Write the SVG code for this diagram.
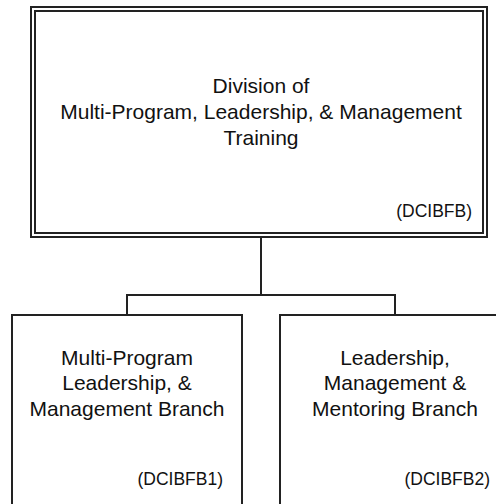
<svg xmlns="http://www.w3.org/2000/svg" width="496" height="504" viewBox="0 0 496 504">
<style>
.box{fill:#fff;stroke:#222;stroke-width:2}
.t{font-family:"Liberation Sans",Arial,sans-serif;font-size:21px;fill:#111;text-anchor:middle}
.c{font-family:"Liberation Sans",Arial,sans-serif;font-size:17.5px;fill:#111;text-anchor:end}
.con{fill:none;stroke:#222;stroke-width:2}
</style>
<rect width="496" height="504" fill="#fff"/>
<g id="connectors">
<path class="con" d="M261 237V295M127 315V295H395V315"/>
</g>
<g id="division">
<rect class="box" x="31" y="7" width="456" height="230"/>
<rect class="box" x="35" y="11" width="448" height="222"/>
<text class="t" x="261" y="93">Division of</text>
<text class="t" x="261" y="119">Multi-Program, Leadership, &amp; Management</text>
<text class="t" x="261" y="145">Training</text>
<text class="c" x="472" y="217">(DCIBFB)</text>
</g>
<g id="branch1">
<rect class="box" x="12" y="315" width="230" height="200"/>
<text class="t" x="127" y="365">Multi-Program</text>
<text class="t" x="127" y="390">Leadership, &amp;</text>
<text class="t" x="127" y="416">Management Branch</text>
<text class="c" x="223" y="485">(DCIBFB1)</text>
</g>
<g id="branch2">
<rect class="box" x="280" y="315" width="230" height="200"/>
<text class="t" x="395" y="365">Leadership,</text>
<text class="t" x="395" y="390">Management &amp;</text>
<text class="t" x="395" y="416">Mentoring Branch</text>
<text class="c" x="490" y="485">(DCIBFB2)</text>
</g>
</svg>
